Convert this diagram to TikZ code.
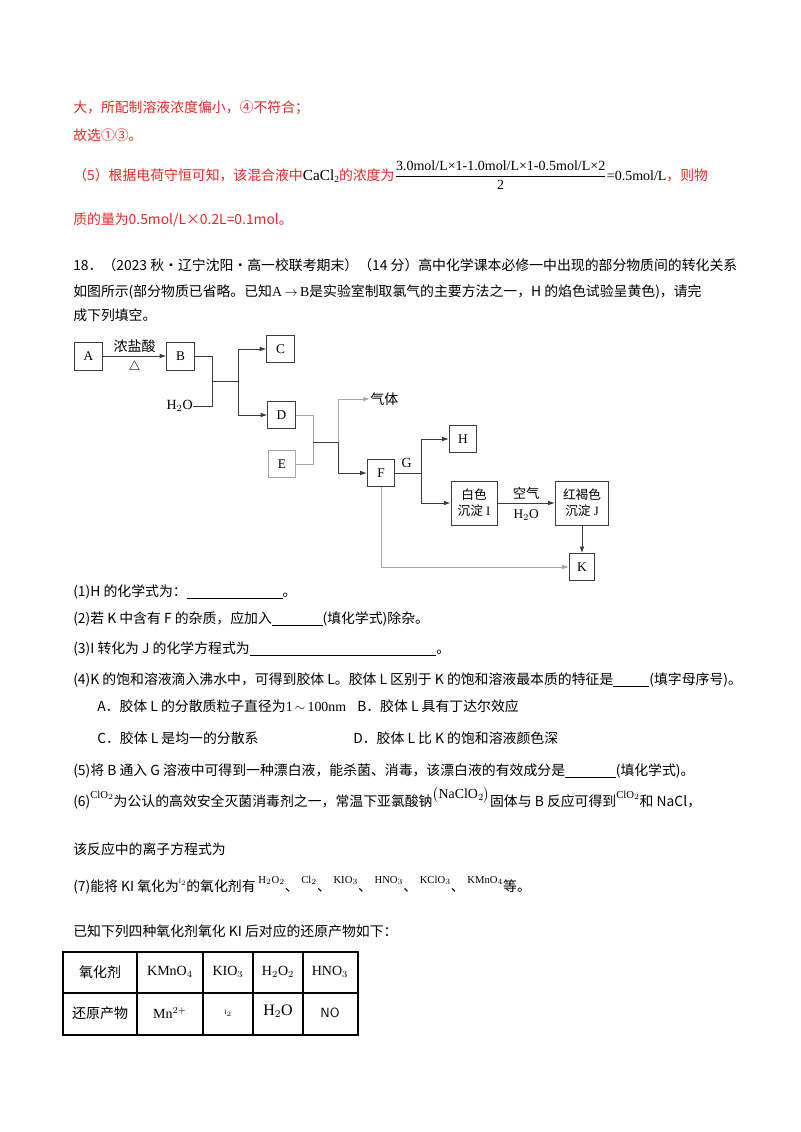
\documentclass[tikz,border=0pt]{standalone}
\usepackage{fontspec}
\setmainfont{Noto Sans CJK SC}
\newfontfamily\tm{Liberation Serif}
\usetikzlibrary{arrows.meta}
\definecolor{red1}{RGB}{232,40,40}
\definecolor{ln}{RGB}{60,60,60}
\begin{document}
\begin{tikzpicture}[x=0.75pt,y=-0.75pt,
  txt/.style={anchor=base west,inner sep=0,font=\fontsize{10.4}{13}\selectfont},
  rtxt/.style={txt,text=red1},
  box/.style={draw=ln,line width=0.7pt,minimum width=20.5pt,minimum height=20pt,inner sep=1pt,font=\tm\fontsize{10}{12}\selectfont},
  con/.style={draw=ln,line width=0.7pt},
  arr/.style={con,-{Latex[length=5pt,width=3.5pt]}},
  gcon/.style={draw=gray!70,line width=0.7pt},
  garr/.style={gcon,-{Latex[length=5pt,width=3.5pt]}},
  cell/.style={anchor=center,inner sep=0,font=\fontsize{10.5}{12}\selectfont}]
\useasboundingbox[fill=white] (0,0) rectangle (800,1132);
% ---- red solution text
\node[rtxt] (l1) at (73,112) {大，所配制溶液浓度偏小，④不符合；};
\node[rtxt] (l2) at (73,140) {故选①③。};
\node[rtxt] (l3) at (73,180) {（5）根据电荷守恒可知，该混合液中\textcolor{black}{\tm\fontsize{11.5}{13}\selectfont CaCl\raisebox{-2pt}{\scriptsize 2}}的浓度为\textcolor{black}{\(\displaystyle\frac{\mbox{\tm\fontsize{10.5}{12}\selectfont 3.0mol/L×1-1.0mol/L×1-0.5mol/L×2}}{\mbox{\tm\fontsize{10.5}{12}\selectfont 2}}\)\mbox{\tm\fontsize{10.5}{12}\selectfont =0.5mol/L}}，则物};
\node[rtxt] (l4) at (73,224) {质的量为0.5mol/L×0.2L=0.1mol。};
% ---- question text
\node[txt] (q0) at (73,270) {18．（2023 秋·辽宁沈阳·高一校联考期末）（14 分）高中化学课本必修一中出现的部分物质间的转化关系};
\node[txt] (q1) at (73,296) {如图所示(部分物质已省略。已知{\tm A\,\(\rightarrow\)\,B}是实验室制取氯气的主要方法之一，H 的焰色试验呈黄色)，请完};
\node[txt] (q2) at (73,320) {成下列填空。};
% ---- diagram
\node[box,minimum height=21pt] (A) at (88.5,356) {A};
\node[box,minimum height=21pt] (B) at (180.5,356) {B};
\node[box] (C) at (280.5,349) {C};
\node[box] (D) at (281.5,415) {D};
\node[box,draw=gray!70] (E) at (282,464) {E};
\node[box] (F) at (381,473) {F};
\node[box] (H) at (463,439) {H};
\node[box,minimum width=34.5pt,minimum height=33pt,align=center,font=\fontsize{9.5}{12}\selectfont] (I) at (474,503) {白色\\沉淀{\tm\ I}};
\node[box,minimum width=40pt,minimum height=33pt,align=center,font=\fontsize{9.5}{12}\selectfont] (J) at (582,503) {红褐色\\沉淀{\tm\ J}};
\node[box,minimum width=19pt] (K) at (582,567) {K};
\node[anchor=east,inner sep=0,font=\tm\fontsize{10.5}{12}\selectfont] (W) at (193,406) {H\(_2\)O};
\node[anchor=west,inner sep=0,font=\fontsize{10.5}{12}\selectfont] (gas) at (370,399) {气体};
\coordinate (j1) at (212,356);
\coordinate (j2) at (212,381);
\coordinate (j3) at (238,381);
\coordinate (j4) at (313,442);
\coordinate (j5) at (338,442);
\coordinate (j6) at (421,473);
\draw[arr] (A) -- node[above=-1pt,font=\fontsize{10.5}{12}\selectfont]{浓盐酸} node[below=0pt,font=\fontsize{10}{12}\selectfont]{\(\triangle\)} (B);
\draw[con] (B.east) -| (j1) -- (j2);
\draw[con] (W.east) -| (j2) -- (j3);
\draw[arr] (j3) |- (C.west);
\draw[arr] (j3) |- (D.west);
\draw[gcon] (D.east) -| (j4);
\draw[gcon] (E.east) -| (j4);
\draw[con] (j4) -- (j5);
\draw[garr] (j5) |- (gas.west);
\draw[arr] (j5) |- (F.west);
\draw[con] (F.east) -- node[above=0pt,pos=0.45,font=\tm\fontsize{10.5}{12}\selectfont]{G} (j6);
\draw[arr] (j6) |- (H.west);
\draw[arr] (j6) |- (I.west);
\draw[arr] (I) -- node[above=-1pt,font=\fontsize{10}{12}\selectfont]{空气} node[below=1pt,font=\tm\fontsize{10}{12}\selectfont]{H\(_2\)O} (J);
\draw[arr] (J) -- (K);
\draw[garr] (F.south) |- (K.west);
% ---- questions
\node[txt] (p1) at (73,596) {(1)H 的化学式为：\underline{\hspace{72pt}}。};
\node[txt] (p2) at (73,623) {(2)若 K 中含有 F 的杂质，应加入\underline{\hspace{38pt}}(填化学式)除杂。};
\node[txt] (p3) at (73,653) {(3)I 转化为 J 的化学方程式为\underline{\hspace{140pt}}。};
\node[txt] (p4) at (73,684) {(4)K 的饱和溶液滴入沸水中，可得到胶体 L。胶体 L 区别于 K 的饱和溶液最本质的特征是\underline{\hspace{27pt}}(填字母序号)。};
\node[txt] (pA) at (97,711) {A．胶体 L 的分散质粒子直径为{\tm 1\(\,\sim\,\)100nm}};
\node[txt] (pB) at (357,711) {B．胶体 L 具有丁达尔效应};
\node[txt] (pC) at (97,743) {C．胶体 L 是均一的分散系};
\node[txt] (pD) at (353,743) {D．胶体 L 比 K 的饱和溶液颜色深};
\node[txt] (p5) at (73,775) {(5)将 B 通入 G 溶液中可得到一种漂白液，能杀菌、消毒，该漂白液的有效成分是\underline{\hspace{38pt}}(填化学式)。};
\node[txt] (p6) at (73,806) {(6)\raisebox{6pt}{\tm\footnotesize ClO\(_2\)}为公认的高效安全灭菌消毒剂之一，常温下亚氯酸钠\raisebox{6pt}{\tm\(\big(\)NaClO\(_2\)\(\big)\)}固体与 B 反应可得到\raisebox{6pt}{\tm\footnotesize ClO\(_2\)}和 NaCl，};
\node[txt] (p6b) at (73,854) {该反应中的离子方程式为};
\node[txt] (p7) at (73,891) {(7)能将 KI 氧化为\raisebox{6pt}{\tm\tiny I\(_2\)}的氧化剂有\raisebox{6pt}{\tm\footnotesize\ H\(_2\)O\(_2\)}、\raisebox{6pt}{\tm\footnotesize\ Cl\(_2\)}、\raisebox{6pt}{\tm\footnotesize\ KIO\(_3\)}、\raisebox{6pt}{\tm\footnotesize\ HNO\(_3\)}、\raisebox{6pt}{\tm\footnotesize\ KClO\(_3\)}、\raisebox{6pt}{\tm\footnotesize\ KMnO\(_4\)}等。};
\node[txt] (p8) at (73,936) {已知下列四种氧化剂氧化 KI 后对应的还原产物如下：};
% ---- table
\draw[line width=0.8pt] (63,952) rectangle (358,1035);
\draw[line width=0.8pt] (63,993) -- (358,993);
\foreach \x in {137,203,253,303} \draw[line width=0.8pt] (\x,952) -- (\x,1035);
\node[cell] (t11) at (100,972) {氧化剂};
\node[cell,font=\tm\fontsize{10.5}{12}\selectfont] (t12) at (170,972) {KMnO\(_4\)};
\node[cell,font=\tm\fontsize{10.5}{12}\selectfont] (t13) at (228,972) {KIO\(_3\)};
\node[cell,font=\tm\fontsize{10.5}{12}\selectfont] (t14) at (278,972) {H\(_2\)O\(_2\)};
\node[cell,font=\tm\fontsize{10.5}{12}\selectfont] (t15) at (330,972) {HNO\(_3\)};
\node[cell] (t21) at (100,1013) {还原产物};
\node[cell,font=\tm\fontsize{10.5}{12}\selectfont] (t22) at (170,1013) {Mn\(^{2+}\)};
\node[cell,font=\tm\tiny] (t23) at (228,1013) {I\(_2\)};
\node[cell,font=\tm\fontsize{12}{13}\selectfont] (t24) at (278,1011) {H\(_2\)O};
\node[cell,font=\sffamily\fontsize{10}{12}\selectfont] (t25) at (330,1013) {NO};
\end{tikzpicture}
\end{document}
